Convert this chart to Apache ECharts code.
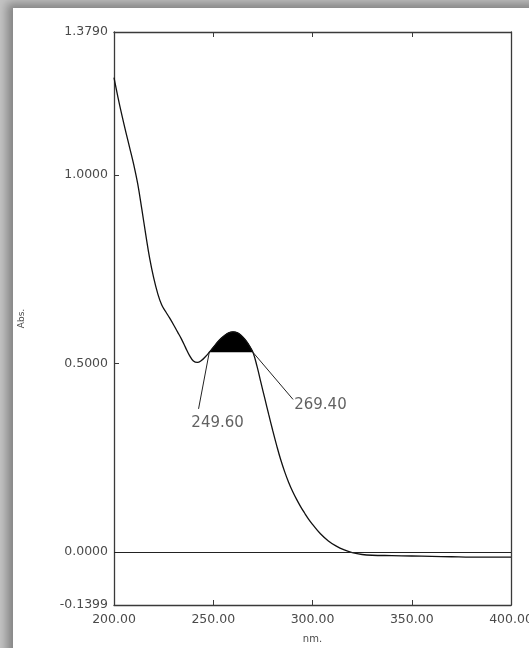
<!DOCTYPE html>
<html>
<head>
<meta charset="utf-8">
<script src="https://cdn.jsdelivr.net/npm/echarts@6/dist/echarts.min.js"></script>
<style>
  html, body { margin: 0; padding: 0; width: 529px; height: 648px; overflow: hidden; background: #c4c4c4; }
  #panel { position: absolute; left: 13px; top: 8px; width: 530px; height: 660px; background: #fff;
           box-shadow: -3px -2px 9px 3px rgba(0,0,0,0.33); }
  #main { position: absolute; left: 0; top: 0; width: 529px; height: 648px; }
</style>
</head>
<body>
<div id="panel"></div>
<div id="main"></div>
<script>
// spectrum (nm / Abs.)
var wavelengths = [200, 202, 204, 206, 208, 210, 212, 214, 216, 218, 220, 222, 224, 226, 228, 230,
  232, 234, 236, 238, 240, 242, 244, 246, 248, 250, 252, 254, 256, 258, 260, 262, 264, 266, 268,
  270, 272, 274, 276, 278, 280, 282, 284, 286, 288, 290, 292, 294, 296, 298, 300, 304, 308, 312,
  316, 320, 325, 330, 340, 350, 360, 370, 380, 390, 400];
var absorbance = [1.258, 1.206, 1.158, 1.113, 1.07, 1.026, 0.975, 0.91, 0.842, 0.778, 0.727, 0.686,
  0.656, 0.638, 0.621, 0.603, 0.584, 0.565, 0.543, 0.522, 0.507, 0.503, 0.508, 0.518, 0.53, 0.543,
  0.556, 0.567, 0.576, 0.582, 0.584, 0.582, 0.575, 0.564, 0.549, 0.53, 0.494, 0.45, 0.407, 0.364,
  0.322, 0.282, 0.245, 0.213, 0.185, 0.161, 0.14, 0.121, 0.104, 0.088, 0.074, 0.049, 0.03, 0.016,
  0.006, -0.001, -0.006, -0.008, -0.009, -0.01, -0.011, -0.012, -0.013, -0.013, -0.013];

// shaded peak band and its two readouts
var peakStart = 248;
var peakEnd = 270;
var peakBase = 0.53;
var peakLabels = ['249.60', '269.40'];
var leaderEnds = [[242.6, 0.38], [290.2, 0.405]];
var labelAnchors = [[252.2, 0.343], [304, 0.39]];

var yLabelValues = [-0.1399, 0, 0.5, 1.0, 1.379];
var yTickValues = [0.5, 1.0];
var xTickValues = [250, 300, 350];

var curve = wavelengths.map(function (w, i) { return [w, absorbance[i]]; });
var peak = curve.filter(function (p) { return p[0] >= peakStart && p[0] <= peakEnd; });

var chart = echarts.init(document.getElementById('main'));
var txt = { color: '#4a4a4a', fontFamily: 'DejaVu Sans', fontSize: 12.5 };
var frame = { show: true, onZero: false, lineStyle: { color: '#3a3a3a', width: 1.3 } };
var tick = { show: true, inside: true, length: 5, lineStyle: { color: '#3a3a3a' } };

var option = {
  animation: false,
  backgroundColor: 'transparent',
  grid: { left: 114, right: 18, top: 32, bottom: 43, containLabel: false, outerBoundsMode: 'none' },
  xAxis: [{
    type: 'value', min: 200, max: 400, interval: 50,
    name: 'nm.', nameLocation: 'middle', nameGap: 29,
    nameTextStyle: { color: '#4a4a4a', fontFamily: 'DejaVu Sans', fontSize: 10 },
    axisLine: frame,
    axisTick: Object.assign({ customValues: xTickValues }, tick),
    axisLabel: Object.assign({ margin: 8, formatter: function (v) { return v.toFixed(2); } }, txt),
    splitLine: { show: false }
  }, {
    type: 'value', min: 200, max: 400, position: 'top',
    axisLine: frame,
    axisTick: Object.assign({ customValues: xTickValues }, tick),
    axisLabel: { show: false },
    splitLine: { show: false }
  }],
  yAxis: [{
    type: 'value', min: -0.1399, max: 1.379,
    name: 'Abs.', nameLocation: 'middle', nameGap: 88, nameRotate: 90,
    nameTextStyle: { color: '#4a4a4a', fontFamily: 'DejaVu Sans', fontSize: 9 },
    axisLine: frame,
    axisTick: Object.assign({ customValues: yTickValues }, tick),
    axisLabel: Object.assign({ margin: 6, customValues: yLabelValues, formatter: function (v) { return v.toFixed(4); } }, txt),
    splitLine: { show: false }
  }, {
    type: 'value', min: -0.1399, max: 1.379, position: 'right',
    axisLine: frame, axisTick: { show: false }, axisLabel: { show: false }, splitLine: { show: false }
  }],
  series: [{
    name: 'spectrum', type: 'line', data: curve, smooth: 0.4, symbol: 'none',
    lineStyle: { color: '#111', width: 1.3 },
    markLine: {
      silent: true, symbol: 'none', label: { show: false },
      lineStyle: { color: '#222', width: 1, type: 'solid' },
      data: [{ yAxis: 0 }]
    },
    z: 3
  }, {
    name: 'peak', type: 'line', data: peak, smooth: 0.4, symbol: 'none',
    lineStyle: { color: '#000', width: 1 },
    areaStyle: { origin: peakBase, color: '#000', opacity: 1 },
    markLine: {
      silent: true, symbol: 'none', label: { show: false },
      lineStyle: { color: '#222', width: 1, type: 'solid' },
      data: [
        [{ coord: [peakStart, peakBase] }, { coord: leaderEnds[0] }],
        [{ coord: [peakEnd, peakBase] }, { coord: leaderEnds[1] }]
      ]
    },
    z: 2
  }, {
    name: 'labels', type: 'scatter', symbolSize: 0, silent: true,
    data: labelAnchors.map(function (p, i) { return { value: p, name: peakLabels[i] }; }),
    label: {
      show: true, position: 'inside', formatter: '{b}',
      color: '#3a3a3a', fontFamily: 'DejaVu Sans', fontSize: 15
    }
  }]
};
chart.setOption(option);
</script>
</body>
</html>
